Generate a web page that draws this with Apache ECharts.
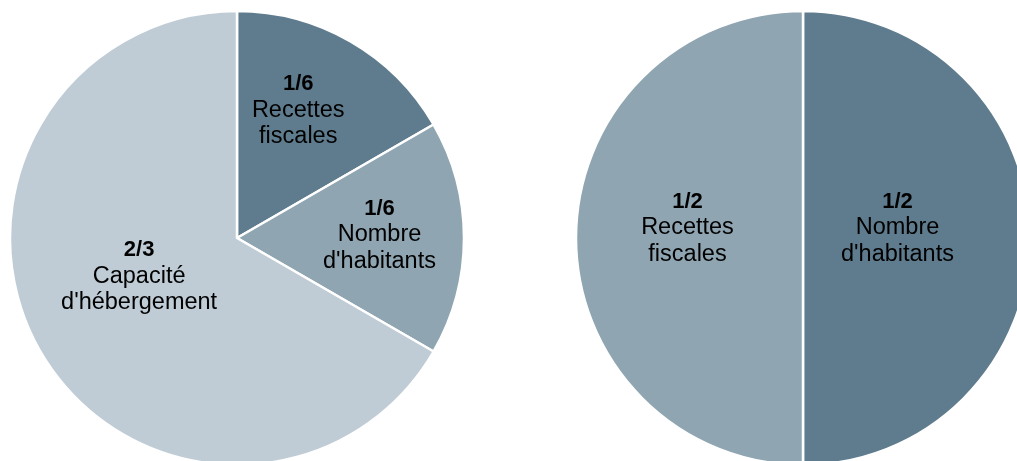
<!DOCTYPE html>
<html>
<head>
<meta charset="utf-8">
<script src="https://cdn.jsdelivr.net/npm/echarts@6/dist/echarts.min.js"></script>
<style>
  html, body { margin: 0; padding: 0; background: #ffffff; }
  #chart { width: 1017px; height: 461px; }
</style>
</head>
<body>
<div id="chart"></div>
<script>
// Left pie: weighting of the three criteria
const leftNames = ['Recettes\nfiscales', 'Nombre\nd\'habitants', 'Capacité\nd\'hébergement'];
const leftShares = ['1/6', '1/6', '2/3'];
// Right pie: weighting of the two criteria
const rightNames = ['Nombre\nd\'habitants', 'Recettes\nfiscales'];
const rightShares = ['1/2', '1/2'];

const DARK = '#5f7c8e';
const MID = '#8fa5b1';
const LIGHT = '#bfccd5';
const leftColors = [DARK, MID, LIGHT];
const rightColors = [DARK, MID];

// label nudges away from the default mid-radius spot
const leftOffsets = [[3, -27], [26, -3], [3, -20]];
const rightOffsets = [[-22, -10], [1, -10]];

function shareValue(s) {
  const p = s.split('/');
  return Number(p[0]) / Number(p[1]);
}

function buildData(names, shares, colors, offsets) {
  return names.map((n, i) => ({
    name: n,
    value: shareValue(shares[i]),
    share: shares[i],
    itemStyle: { color: colors[i] },
    label: { offset: offsets[i] }
  }));
}

const FONT = 'Liberation Sans, Arial, sans-serif';
const labelStyle = {
  show: true,
  position: 'inside',
  color: '#000000',
  fontFamily: FONT,
  fontSize: 23.5,
  lineHeight: 26.5,
  align: 'center',
  formatter: function (p) {
    return '{f|' + p.data.share + '}\n' + p.name;
  },
  rich: {
    f: {
      fontFamily: FONT,
      fontSize: 22,
      fontWeight: 'bold',
      lineHeight: 26.5,
      color: '#000000'
    }
  }
};

function pieSeries(center, data) {
  return {
    type: 'pie',
    center: center,
    radius: 227,
    startAngle: 90,
    clockwise: true,
    avoidLabelOverlap: false,
    silent: true,
    itemStyle: { borderColor: '#ffffff', borderWidth: 2.5 },
    label: labelStyle,
    labelLine: { show: false },
    emphasis: { disabled: true },
    data: data
  };
}

const chart = echarts.init(document.getElementById('chart'), null, { renderer: 'canvas' });
chart.setOption({
  animation: false,
  backgroundColor: '#ffffff',
  series: [
    pieSeries([237, 238], buildData(leftNames, leftShares, leftColors, leftOffsets)),
    pieSeries([803, 238], buildData(rightNames, rightShares, rightColors, rightOffsets))
  ]
});
</script>
</body>
</html>
